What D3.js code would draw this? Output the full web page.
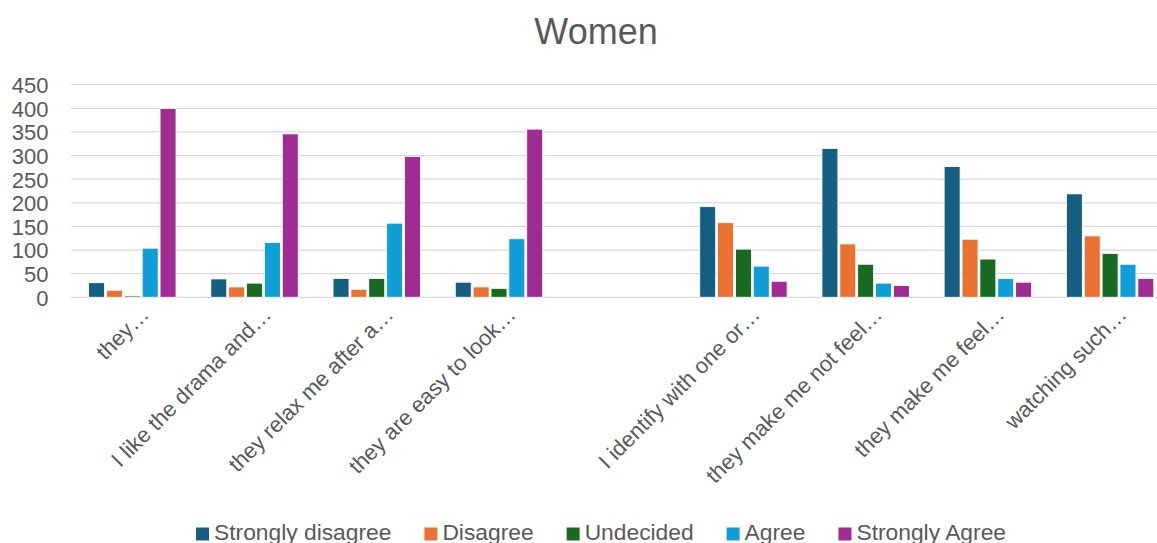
<!DOCTYPE html>
<html>
<head>
<meta charset="utf-8">
<script src="https://cdn.jsdelivr.net/npm/d3@7/dist/d3.min.js"></script>
<style>
  html, body { margin: 0; padding: 0; background: #fff; }
  svg { display: block; font-family: "Liberation Sans", Arial, sans-serif; }
</style>
</head>
<body>
<svg id="chart" width="1157" height="543"></svg>
<script>
// Survey statements (the fifth slot is an empty spacer category)
const categories = [
  "they…",
  "I like the drama and…",
  "they relax me after a…",
  "they are easy to look…",
  "",
  "I identify with one or…",
  "they make me not feel…",
  "they make me feel…",
  "watching such…"
];

const seriesNames = ["Strongly disagree", "Disagree", "Undecided", "Agree", "Strongly Agree"];
const seriesColors = ["#156082", "#E97132", "#196B24", "#0F9ED5", "#A02B93"];

const stronglyDisagree = [31, 39, 40, 32, null, 192, 315, 277, 219];
const disagree         = [15, 22, 17, 22, null, 158, 113, 123, 130];
const undecided        = [3, 30, 40, 19, null, 102, 70, 81, 93];
const agree            = [104, 116, 157, 124, null, 66, 30, 40, 70];
const stronglyAgree    = [400, 346, 298, 356, null, 34, 25, 32, 40];

const yTicks = [0, 50, 100, 150, 200, 250, 300, 350, 400, 450];

const seriesValues = [stronglyDisagree, disagree, undecided, agree, stronglyAgree];

const svg = d3.select("#chart");
const textColor = "#595959";

const plot = { left: 71.2, right: 1171.2, top: 84.7, bottom: 297.3 };

const x0 = d3.scaleBand()
  .domain(d3.range(categories.length))
  .range([plot.left, plot.right])
  .paddingInner(0).paddingOuter(0);

const x1 = d3.scaleBand()
  .domain(seriesNames)
  .range([0, x0.bandwidth()])
  .paddingInner(0.104)
  .paddingOuter(0.973);

const y = d3.scaleLinear().domain([0, 450]).range([plot.bottom, plot.top]);

// Title
svg.append("text")
  .attr("x", 596).attr("y", 44)
  .attr("text-anchor", "middle")
  .attr("fill", textColor)
  .style("font-size", "36px")
  .text("Women");

// Horizontal gridlines
svg.append("g")
  .selectAll("line")
  .data(yTicks)
  .join("line")
  .attr("x1", plot.left).attr("x2", plot.right)
  .attr("y1", d => y(d)).attr("y2", d => y(d))
  .attr("stroke", "#d9d9d9")
  .attr("stroke-width", 1.3);

// Y axis labels
const yAxis = d3.axisLeft(y).tickValues(yTicks).tickSize(0).tickPadding(0);
const yg = svg.append("g")
  .attr("transform", `translate(48.5,0)`)
  .call(yAxis);
yg.select(".domain").remove();
yg.selectAll("text")
  .attr("fill", textColor)
  .style("font-size", "22px")
  .style("font-family", "'Liberation Sans', Arial, sans-serif")
  .attr("dy", "0.36em");

// Bars
const rows = categories.map((c, i) => ({ i, values: seriesNames.map((s, k) => ({ s, k, v: seriesValues[k][i] })) }));

svg.append("g")
  .selectAll("g")
  .data(rows)
  .join("g")
  .attr("transform", d => `translate(${x0(d.i)},0)`)
  .selectAll("rect")
  .data(d => d.values.filter(e => e.v != null))
  .join("rect")
  .attr("x", d => x1(d.s))
  .attr("width", x1.bandwidth())
  .attr("y", d => y(d.v))
  .attr("height", d => y(0) - y(d.v))
  .attr("fill", d => seriesColors[d.k])
  .attr("stroke", "#ffffff")
  .attr("stroke-width", 0.9);

// Category labels, rotated
svg.append("g")
  .selectAll("text")
  .data(categories.map((c, i) => ({ c, i })))
  .join("text")
  .attr("transform", d => `translate(${x0(d.i) + x0.bandwidth() / 2 + 18},316) rotate(-45)`)
  .attr("text-anchor", "end")
  .attr("fill", textColor)
  .style("font-size", "22px")
  .text(d => d.c);

// Legend: items spread across a fixed span, centred under the chart
const legendLeft = 196, legendRight = 1006;
const legend = svg.append("g");
const items = legend.selectAll("g")
  .data(seriesNames.map((s, k) => ({ s, k })))
  .join("g");
items.append("rect")
  .attr("width", 13).attr("height", 13)
  .attr("y", 527.5)
  .attr("fill", d => seriesColors[d.k]);
items.append("text")
  .attr("x", 18).attr("y", 540)
  .attr("fill", textColor)
  .style("font-size", "22.8px")
  .text(d => d.s);

const widths = [];
items.each(function () {
  widths.push(18 + d3.select(this).select("text").node().getComputedTextLength());
});
const gap = (legendRight - legendLeft - d3.sum(widths)) / (widths.length - 1);
let cursor = legendLeft;
items.attr("transform", (d, i) => {
  const t = `translate(${cursor},0)`;
  cursor += widths[i] + gap;
  return t;
});
</script>
</body>
</html>
